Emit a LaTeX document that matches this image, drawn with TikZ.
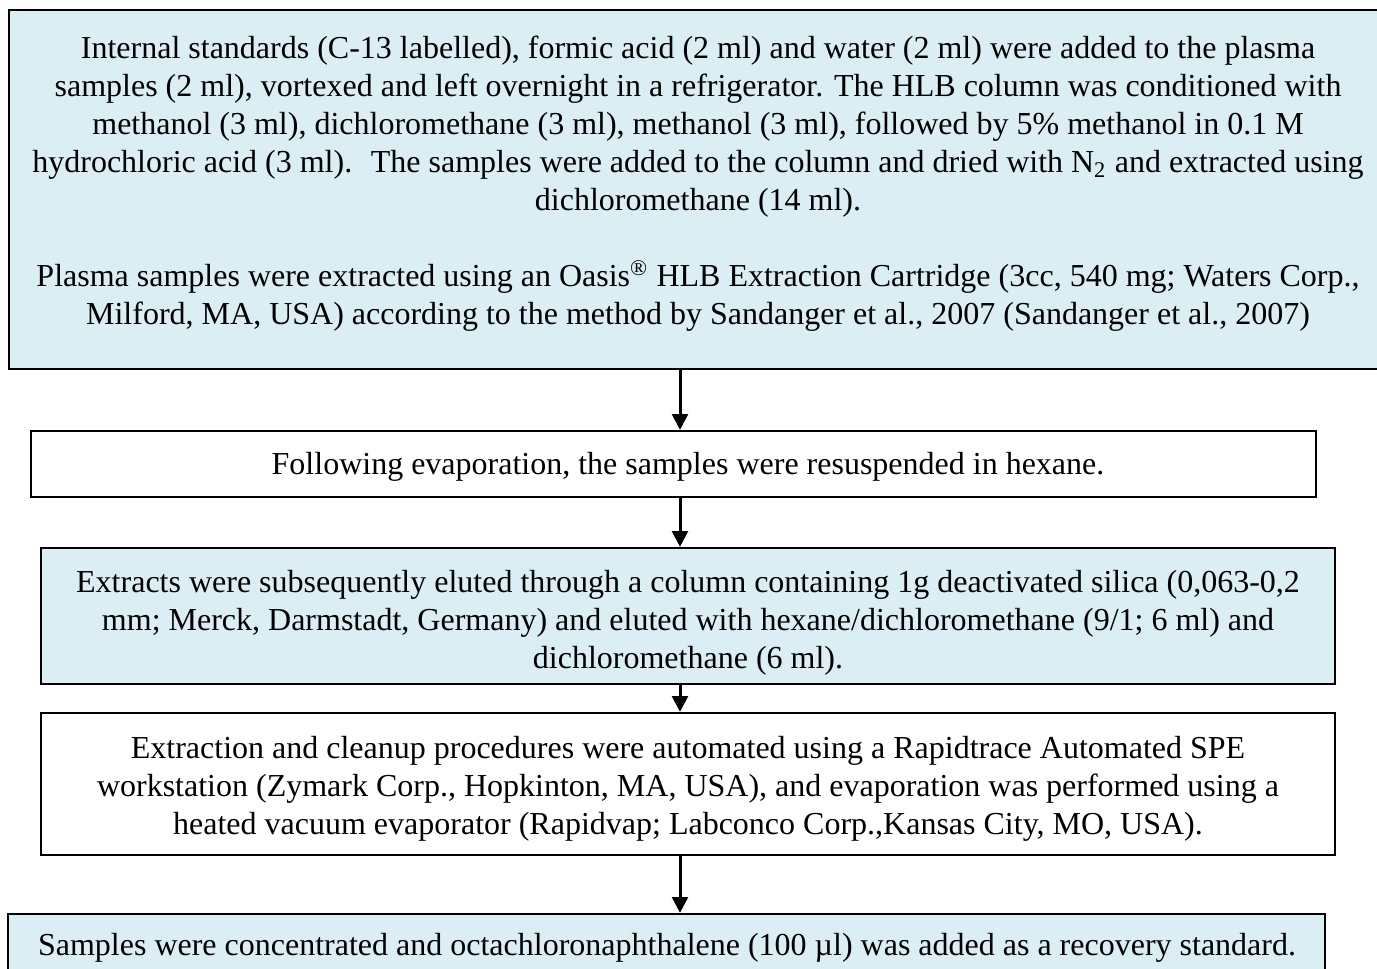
\documentclass[tikz,border=0pt]{standalone}
\usepackage{fontspec}
\setmainfont{Liberation Serif}
\usetikzlibrary{arrows.meta}
\definecolor{paleblue}{RGB}{218,238,243}
\begin{document}
\begin{tikzpicture}[x=0.35pt,y=-0.35pt,
  box/.style={draw=black, line width=0.8pt, inner sep=0pt},
  bluebox/.style={box, fill=paleblue},
  txt/.style={align=center, font=\fontsize{11.2pt}{13.3pt}\selectfont, inner sep=0pt},
  arr/.style={-{Triangle[width=5.5pt,length=5.5pt]}, line width=1.05pt}]
\useasboundingbox (0,0) rectangle (1377,969);
\clip (0,0) rectangle (1377,969);
\fill[white] (0,0) rectangle (1377,969);
% boxes
\node[bluebox, minimum width=481.95pt, minimum height=125.65pt] (b1) at (697.5,189.5) {};
\node[box, fill=white, minimum width=449.75pt, minimum height=23.1pt] (b2) at (673.5,464) {};
\node[bluebox, minimum width=452.9pt, minimum height=47.6pt] (b3) at (688,616) {};
\node[box, fill=white, minimum width=452.9pt, minimum height=49.7pt] (b4) at (688,784) {};
\node[bluebox, minimum width=460.95pt, minimum height=23.1pt] (b5) at (666.5,947) {};
% texts
\node[txt] (t1) at (698,184) {Internal standards (C-13 labelled), formic acid (2 ml) and water (2 ml) were added to the plasma\\
samples (2 ml), vortexed and left overnight in a refrigerator. The HLB column was conditioned with\\
methanol (3 ml), dichloromethane (3 ml), methanol (3 ml), followed by 5\% methanol in 0.1 M\\
hydrochloric acid (3 ml).~ The samples were added to the column and dried with N\textsubscript{2} and extracted using\\
dichloromethane (14 ml).\\[13.3pt]
Plasma samples were extracted using an Oasis\textsuperscript{®} HLB Extraction Cartridge (3cc, 540 mg; Waters Corp.,\\
Milford, MA, USA) according to the method by Sandanger et al., 2007 (Sandanger et al., 2007)};
\node[txt] (t2) at (688,467) {Following evaporation, the samples were resuspended in hexane.};
\node[txt] (t3) at (688,623) {Extracts were subsequently eluted through a column containing 1g deactivated silica (0,063-0,2\\
mm; Merck, Darmstadt, Germany) and eluted with hexane/dichloromethane (9/1; 6 ml) and\\
dichloromethane (6 ml).};
\node[txt] (t4) at (688,789) {Extraction and cleanup procedures were automated using a Rapidtrace Automated SPE\\
workstation (Zymark Corp., Hopkinton, MA, USA), and evaporation was performed using a\\
heated vacuum evaporator (Rapidvap; Labconco Corp.,Kansas City, MO, USA).};
\node[txt] (t5) at (667,948) {Samples were concentrated and octachloronaphthalene (100 µl) was added as a recovery standard.};
% arrows
\coordinate (ax) at (680,0);
\draw[arr] (b1.south -| ax) -- (b2.north -| ax);
\draw[arr] (b2.south -| ax) -- (b3.north -| ax);
\draw[arr] (b3.south -| ax) -- (b4.north -| ax);
\draw[arr] (b4.south -| ax) -- (b5.north -| ax);
\end{tikzpicture}
\end{document}
